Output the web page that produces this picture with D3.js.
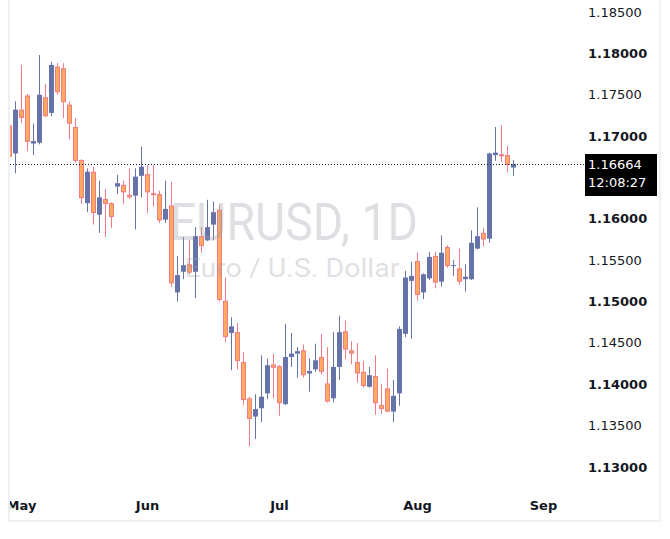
<!DOCTYPE html>
<html>
<head>
<meta charset="utf-8">
<script src="https://cdn.jsdelivr.net/npm/d3@7"></script>
<style>
  html, body { margin: 0; padding: 0; background: #fff; }
  svg { display: block; }
</style>
</head>
<body>
<svg id="chart" width="670" height="539"></svg>
<script>
'use strict';

// daily bars, left to right
var opens = [1.1713, 1.1679, 1.1732, 1.1749, 1.1691, 1.1692, 1.1747, 1.1728, 1.1784, 1.1782,
    1.1738, 1.1711, 1.1671, 1.1619, 1.1657, 1.1605, 1.1624, 1.1619, 1.1639, 1.1641,
    1.1629, 1.1628, 1.1652, 1.1654, 1.1631, 1.1630, 1.1599, 1.1616, 1.1511, 1.1536,
    1.1545, 1.1536, 1.1579, 1.1574, 1.1593, 1.1611, 1.1501, 1.1462, 1.1463, 1.1427,
    1.1383, 1.1361, 1.1371, 1.1389, 1.1424, 1.1422, 1.1376, 1.1433, 1.1437, 1.1441,
    1.1413, 1.1418, 1.1433, 1.1401, 1.1383, 1.1421, 1.1464, 1.1441, 1.1427, 1.1415,
    1.1397, 1.1410, 1.1375, 1.1395, 1.1367, 1.1389, 1.1461, 1.1525, 1.1549, 1.1511,
    1.1528, 1.1555, 1.1524, 1.1566, 1.1543, 1.1540, 1.1527, 1.1527, 1.1564, 1.1583,
    1.1576, 1.1677, 1.1678, 1.1677, 1.1662];
var highs = [1.1720, 1.1742, 1.1786, 1.1751, 1.1715, 1.1798, 1.1763, 1.1790, 1.1788, 1.1788,
    1.1742, 1.1722, 1.1672, 1.1661, 1.1663, 1.1646, 1.1636, 1.1620, 1.1653, 1.1646,
    1.1661, 1.1661, 1.1687, 1.1665, 1.1665, 1.1634, 1.1646, 1.1645, 1.1555, 1.1578,
    1.1574, 1.1590, 1.1590, 1.1623, 1.1621, 1.1617, 1.1529, 1.1481, 1.1474, 1.1439,
    1.1385, 1.1388, 1.1435, 1.1431, 1.1437, 1.1423, 1.1473, 1.1462, 1.1445, 1.1448,
    1.1431, 1.1449, 1.1461, 1.1445, 1.1463, 1.1483, 1.1477, 1.1452, 1.1450, 1.1428,
    1.1421, 1.1435, 1.1400, 1.1419, 1.1405, 1.1470, 1.1537, 1.1548, 1.1559, 1.1534,
    1.1560, 1.1560, 1.1580, 1.1568, 1.1550, 1.1564, 1.1545, 1.1586, 1.1614, 1.1589,
    1.1680, 1.1711, 1.1713, 1.1688, 1.1671];
var lows = [1.1659, 1.1655, 1.1716, 1.1682, 1.1677, 1.1690, 1.1723, 1.1724, 1.1750, 1.1722,
    1.1696, 1.1668, 1.1618, 1.1608, 1.1593, 1.1583, 1.1578, 1.1589, 1.1630, 1.1618,
    1.1624, 1.1587, 1.1626, 1.1607, 1.1615, 1.1595, 1.1595, 1.1518, 1.1500, 1.1527,
    1.1533, 1.1504, 1.1559, 1.1573, 1.1574, 1.1500, 1.1451, 1.1417, 1.1418, 1.1375,
    1.1325, 1.1334, 1.1354, 1.1382, 1.1383, 1.1362, 1.1375, 1.1421, 1.1408, 1.1408,
    1.1391, 1.1415, 1.1412, 1.1378, 1.1378, 1.1405, 1.1430, 1.1424, 1.1402, 1.1396,
    1.1396, 1.1363, 1.1364, 1.1366, 1.1354, 1.1374, 1.1457, 1.1455, 1.1501, 1.1503,
    1.1526, 1.1516, 1.1518, 1.1541, 1.1531, 1.1520, 1.1512, 1.1526, 1.1563, 1.1567,
    1.1571, 1.1670, 1.1669, 1.1656, 1.1652];
var closes = [1.1675, 1.1732, 1.1722, 1.1693, 1.1694, 1.1750, 1.1724, 1.1786, 1.1753, 1.1741,
    1.1715, 1.1670, 1.1625, 1.1657, 1.1607, 1.1626, 1.1618, 1.1602, 1.1643, 1.1632,
    1.1626, 1.1651, 1.1663, 1.1632, 1.16305, 1.1598, 1.1612, 1.1522, 1.1532, 1.1544,
    1.1535, 1.1579, 1.1567, 1.1590, 1.1608, 1.1502, 1.1457, 1.1470, 1.1428, 1.1381,
    1.1358, 1.1370, 1.1385, 1.1423, 1.1420, 1.1377, 1.1433, 1.1437, 1.1440, 1.1411,
    1.1416, 1.1429, 1.1415, 1.1379, 1.1421, 1.1463, 1.1442, 1.1437, 1.1413, 1.1398,
    1.1411, 1.1377, 1.1370, 1.1367, 1.1386, 1.1467, 1.1529, 1.1531, 1.1508, 1.1533,
    1.1554, 1.1523, 1.1559, 1.1543, 1.1544, 1.1524, 1.1530, 1.1571, 1.1579, 1.1575,
    1.1679, 1.1680, 1.1677, 1.1665, 1.16664];

// month labels sit on the first bar of each month (bar index)
var monthLabels = ['May', 'Jun', 'Jul', 'Aug', 'Sep'];
var monthBars = [2, 23, 45, 68, 89];

// 1.16500 is hidden behind the last price tag, so it is left out
var priceTicks = [1.130, 1.135, 1.140, 1.145, 1.150, 1.155, 1.160, 1.170, 1.175, 1.180, 1.185];
var lastPrice = 1.16664;
var countdown = '12:08:27';

var upColor = '#6673a9',
    downFill = '#fbab5d',
    downLine = '#f27a82',
    frameColor = '#eef0f3';

var paneLeft = 10, paneRight = 585, paneBottom = 521;

var bars = opens.map(function(o, i) {
    return { i: i, o: o, h: highs[i], l: lows[i], c: closes[i] };
});

var x = d3.scaleLinear().domain([0, 84]).range([9.5, 513.5]);
var y = d3.scaleLinear().domain([1.13, 1.185]).range([467, 12]);
var fmt = d3.format('.5f');
var barW = 5;

var svg = d3.select('#chart');

svg.append('defs').append('clipPath')
    .attr('id', 'pane')
    .append('rect')
    .attr('x', paneLeft).attr('y', 0)
    .attr('width', paneRight - paneLeft).attr('height', paneBottom);

var pane = svg.append('g').attr('clip-path', 'url(#pane)');

/** candles */
var candle = pane.selectAll('g.candle')
    .data(bars)
    .enter()
    .append('g')
    .attr('class', 'candle');

candle.append('line')
    .attr('x1', function(d) { return x(d.i); })
    .attr('x2', function(d) { return x(d.i); })
    .attr('y1', function(d) { return y(d.h); })
    .attr('y2', function(d) { return y(d.l); })
    .attr('stroke', function(d) { return d.c >= d.o ? upColor : downLine; })
    .attr('stroke-width', 1);

candle.append('rect')
    .attr('x', function(d) { return x(d.i) - barW / 2 + (d.c >= d.o ? 0 : 0.5); })
    .attr('width', function(d) { return d.c >= d.o ? barW : barW - 1; })
    .attr('y', function(d) {
        var top = y(Math.max(d.o, d.c));
        return d.c >= d.o ? top : top + 0.5;
    })
    .attr('height', function(d) {
        var hgt = Math.max(1, Math.abs(y(d.o) - y(d.c)));
        return d.c >= d.o ? hgt : Math.max(1, hgt - 1);
    })
    .attr('fill', function(d) { return d.c >= d.o ? upColor : downFill; })
    .attr('stroke', function(d) { return d.c >= d.o ? 'none' : downLine; })
    .attr('stroke-width', 1);

/** watermark drawn over the bars, half transparent */
var mark = pane.append('g')
    .attr('fill', '#9a9da6')
    .attr('fill-opacity', 0.33)
    .attr('font-family', 'Roboto, "Noto Sans", sans-serif')
    .attr('text-anchor', 'middle');

mark.append('text')
    .attr('x', 294).attr('y', 240)
    .attr('font-size', 52)
    .attr('textLength', 248)
    .attr('lengthAdjust', 'spacingAndGlyphs')
    .text('EURUSD, 1D');

mark.append('text')
    .attr('x', 292).attr('y', 277)
    .attr('font-size', 26)
    .attr('textLength', 215)
    .attr('lengthAdjust', 'spacingAndGlyphs')
    .text('Euro / U.S. Dollar');

/** last price line */
pane.append('line')
    .attr('x1', paneLeft).attr('x2', paneRight)
    .attr('y1', Math.round(y(lastPrice)) + 0.5)
    .attr('y2', Math.round(y(lastPrice)) + 0.5)
    .attr('stroke', '#131722')
    .attr('stroke-width', 1)
    .attr('stroke-dasharray', '1,2');

/** price scale */
svg.append('g')
    .selectAll('text')
    .data(priceTicks)
    .enter()
    .append('text')
    .attr('x', 588)
    .attr('y', function(d) { return y(d); })
    .attr('dy', '0.35em')
    .attr('font-family', '"DejaVu Sans", sans-serif')
    .attr('font-size', 13)
    .attr('font-weight', function(d) { return Math.round(d * 1000) % 10 === 0 ? 'bold' : 'normal'; })
    .attr('fill', '#131722')
    .text(function(d) { return fmt(d); });

var tag = svg.append('g');
tag.append('rect')
    .attr('x', 585).attr('y', Math.round(y(lastPrice)) - 10)
    .attr('width', 72).attr('height', 42)
    .attr('fill', '#000');
tag.append('text')
    .attr('x', 588).attr('y', y(lastPrice) + 1)
    .attr('dy', '0.35em')
    .attr('font-family', '"DejaVu Sans", sans-serif')
    .attr('font-size', 13)
    .attr('fill', '#fff')
    .text(fmt(lastPrice));
tag.append('text')
    .attr('x', 588).attr('y', y(lastPrice) + 19)
    .attr('dy', '0.35em')
    .attr('font-family', '"DejaVu Sans", sans-serif')
    .attr('font-size', 13)
    .attr('fill', '#fff')
    .text(countdown);

/** time scale */
svg.append('g')
    .attr('clip-path', 'url(#pane)')
    .selectAll('text')
    .data(monthLabels)
    .enter()
    .append('text')
    .attr('x', function(d, i) { return x(monthBars[i]); })
    .attr('y', 510)
    .attr('text-anchor', 'middle')
    .attr('font-family', '"DejaVu Sans", sans-serif')
    .attr('font-size', 13)
    .attr('font-weight', 'bold')
    .attr('fill', '#131722')
    .text(function(d) { return d; });

/** frame */
var frame = svg.append('g')
    .attr('stroke', frameColor)
    .attr('stroke-width', 2)
    .attr('fill', 'none');
frame.append('path')
    .attr('d', 'M' + (paneLeft - 1) + ',0V' + paneBottom + 'H660V0');
</script>
</body>
</html>
